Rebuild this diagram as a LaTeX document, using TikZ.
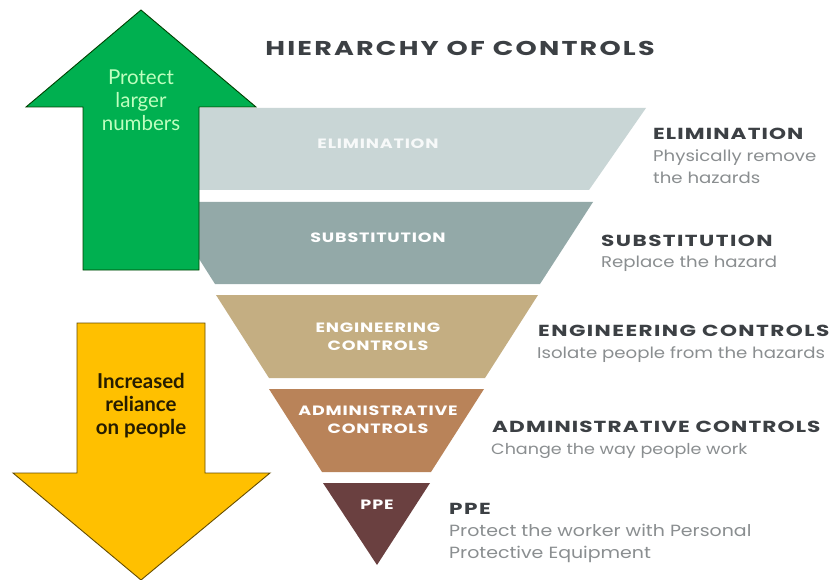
\documentclass[tikz,border=0pt]{standalone}
\usepackage{fontspec}
\setmainfont{Poppins}
\newfontfamily\wide[LetterSpace=6,FakeStretch=1.3]{Poppins}
\newfontfamily\headf[LetterSpace=9,FakeStretch=1.35]{Poppins}
\newfontfamily\headn[LetterSpace=7,FakeStretch=1.35]{Poppins}
\newfontfamily\titlef[LetterSpace=11,FakeStretch=1.35]{Poppins}
\newfontfamily\body[FakeStretch=1.17]{Poppins}
\newfontfamily\arrowfont{Lato}
\definecolor{elimc}{HTML}{C9D6D6}
\definecolor{subc}{HTML}{93A9A8}
\definecolor{engc}{HTML}{C4AE82}
\definecolor{admc}{HTML}{B98359}
\definecolor{ppec}{HTML}{6A4040}
\definecolor{inkc}{HTML}{3C4044}
\definecolor{greyc}{HTML}{8A8E90}
\definecolor{greenc}{HTML}{00B050}
\definecolor{yellowc}{HTML}{FFC000}
\tikzset{
  x=1pt,y=-1pt,
  band/.style={font=\wide\fontsize{13.5}{18}\selectfont\bfseries,text=white,align=center,inner sep=0pt},
  head/.style={font=\headf\fontsize{16}{18}\selectfont\bfseries,text=inkc,anchor=base west,inner sep=0pt},
  headnarrow/.style={head,font=\headn\fontsize{16}{18}\selectfont\bfseries},
  desc/.style={font=\body\fontsize{15.5}{22}\selectfont,text=greyc,anchor=base west,align=left,inner sep=0pt},
  arrowtext/.style={font=\arrowfont\fontsize{20.5}{23}\selectfont,align=center,inner sep=0pt},
  bigarrow/.style={draw=black!75!green,line width=0.9pt,line join=miter},
}
\begin{document}
\begin{tikzpicture}
\useasboundingbox (0,0) rectangle (832,580);
\fill[white] (0,0) rectangle (832,580);
\fill[elimc] (149,108) -- (646,108) -- (589,190) -- (163,190) -- cycle;
\fill[subc] (163,202) -- (593,202) -- (540,284) -- (215,284) -- cycle;
\fill[engc] (216,295) -- (538,295) -- (485,378) -- (269,378) -- cycle;
\fill[admc] (269,389) -- (484,389) -- (431,472) -- (322,472) -- cycle;
\fill[ppec] (323,483) -- (430,483) -- (377,565) -- cycle;
\draw[bigarrow,fill=greenc] (141,10) -- (256,107) -- (199,107) -- (199,270) -- (83,270) -- (83,107) -- (26,107) -- cycle;
\draw[bigarrow,draw=black!60!yellowc,fill=yellowc] (77,323) -- (205,323) -- (205,473) -- (270,473) -- (141,580) -- (13,473) -- (77,473) -- cycle;
\node[arrowtext,text=green!25!white] (up) at (141,100) {Protect\\larger\\numbers};
\node[arrowtext,text=black!85!yellowc,font=\arrowfont\fontsize{20.5}{23}\selectfont\bfseries] (down) at (141,406) {Increased\\reliance\\on people};
\node[font=\titlef\fontsize{20}{22}\selectfont\bfseries,text=inkc,inner sep=0pt] (title) at (460,48.5) {HIERARCHY OF CONTROLS};
\node[band,text=white!85!elimc] (b1) at (378,144) {ELIMINATION};
\node[band] (b2) at (378,238) {SUBSTITUTION};
\node[band] (b3) at (378,337) {ENGINEERING\\CONTROLS};
\node[band] (b4) at (378,420) {ADMINISTRATIVE\\CONTROLS};
\node[band] (b5) at (377,505) {PPE};
\node[headnarrow] (h1) at (653,140) {ELIMINATION};
\node[desc] (d1) at (653,184) {Physically remove\\the hazards};
\node[head] (h2) at (601,246) {SUBSTITUTION};
\node[desc] (d2) at (601,267) {Replace the hazard};
\node[head] (h3) at (538,336) {ENGINEERING CONTROLS};
\node[desc] (d3) at (537,358) {Isolate people from the hazards};
\node[headnarrow] (h4) at (492,432) {ADMINISTRATIVE CONTROLS};
\node[desc,font=\body\fontsize{15}{22}\selectfont] (d4) at (491,454) {Change the way people work};
\node[head] (h5) at (449,514) {PPE};
\node[desc,font=\body\fontsize{16.2}{22}\selectfont] (d5) at (449,558) {Protect the worker with Personal\\Protective Equipment};
\end{tikzpicture}
\end{document}
